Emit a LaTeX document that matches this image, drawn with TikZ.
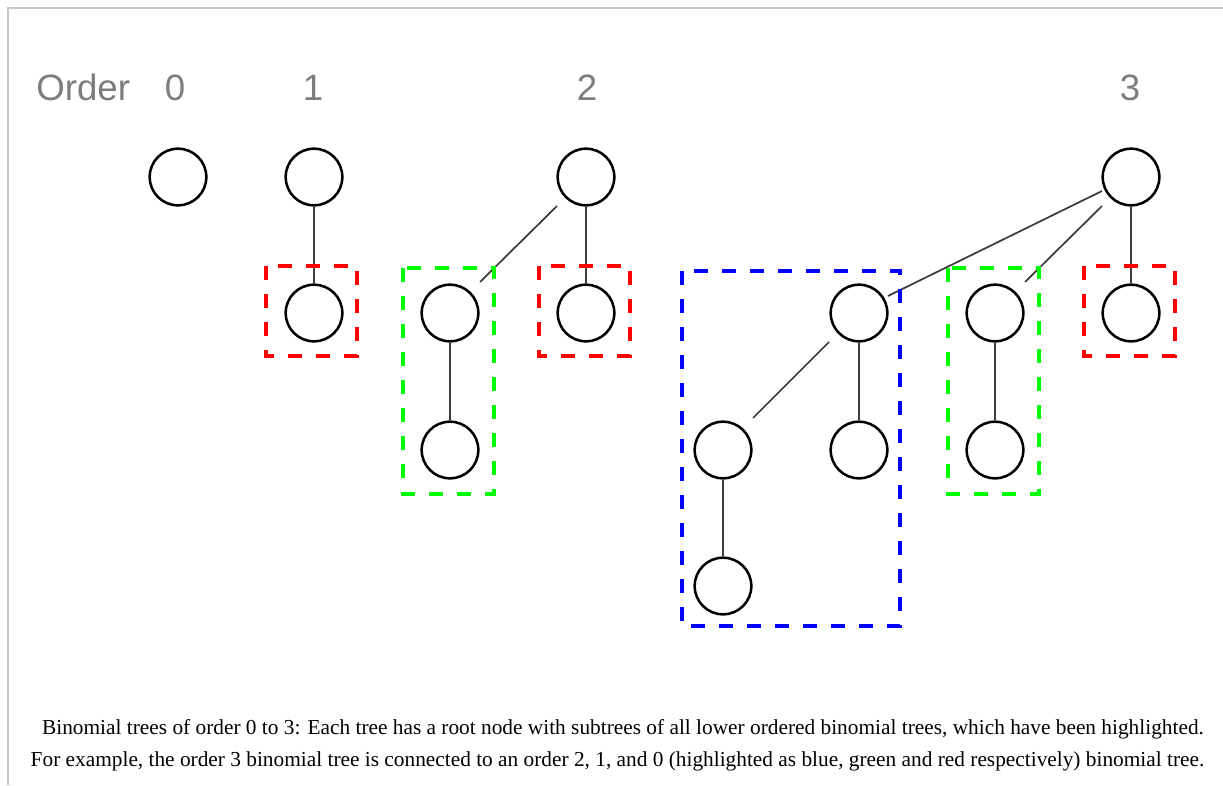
\documentclass[tikz,border=0pt]{standalone}
\usepackage{fontspec}
\setmainfont{Liberation Serif}
\setsansfont{Liberation Sans}
\definecolor{framegray}{RGB}{200,200,200}
\definecolor{edgegray}{RGB}{60,60,60}
\definecolor{labgray}{RGB}{125,125,125}
\begin{document}
\begin{tikzpicture}[x=0.75pt,y=-0.75pt,
  tnode/.style={circle,draw=black,line width=1.9pt,minimum size=42.5pt,inner sep=0pt},
  edge/.style={draw=edgegray,line width=1.3pt},
  hbox/.style={line width=2.6pt,dash pattern=on 10.5pt off 10.5pt},
  lab/.style={font=\sffamily\fontsize{27.5pt}{30pt}\selectfont,text=labgray,inner sep=0pt,anchor=base},
  captext/.style={font=\fontsize{16pt}{19pt}\selectfont,inner sep=0pt,anchor=base}]
\useasboundingbox (0,0) rectangle (1223,785);
\fill[white] (0,0) rectangle (1223,785);
% frame
\draw[line width=0.9pt,framegray] (8,785) -- (8,8) -- (1223,8);
% labels
\node[lab,anchor=base west] (ord) at (36,100) {Order};
\node[lab] (l0) at (175,100) {0};
\node[lab] (l1) at (313,100) {1};
\node[lab] (l2) at (587,100) {2};
\node[lab] (l3) at (1130,100) {3};
% order 0
\node[tnode] (a) at (178,177) {};
% order 1
\node[tnode] (b) at (314,177) {};
\node[tnode] (b1) at (314,313) {};
\draw[edge] (b) -- (b1);
% order 2
\node[tnode] (c) at (586,177) {};
\node[tnode] (c1) at (450,313) {};
\node[tnode] (c11) at (450,450) {};
\node[tnode] (c2) at (586,313) {};
\draw[edge] (c) -- (c2);
\draw[edge] (c1) -- (c11);
\draw[edge] ([shift={(-29,29)}]c.center) -- ([shift={(30,-31)}]c1.center);
% order 3
\node[tnode] (d) at (1131,177) {};
\node[tnode] (d1) at (859,313) {};
\node[tnode] (d11) at (723,450) {};
\node[tnode] (d111) at (723,586) {};
\node[tnode] (d12) at (859,450) {};
\node[tnode] (d2) at (995,313) {};
\node[tnode] (d21) at (995,450) {};
\node[tnode] (d3) at (1131,313) {};
\draw[edge] (d) -- (d3);
\draw[edge] (d2) -- (d21);
\draw[edge] (d1) -- (d12);
\draw[edge] (d11) -- (d111);
\draw[edge] ([shift={(-29,14)}]d.center) -- ([shift={(29,-17)}]d1.center);
\draw[edge] ([shift={(-29,29)}]d.center) -- ([shift={(30,-31)}]d2.center);
\draw[edge] ([shift={(-30,29)}]d1.center) -- ([shift={(30,-32)}]d11.center);
% highlight boxes
\draw[hbox,red] (266,266) rectangle (357,356);
\draw[hbox,green] (403,268) rectangle (494,494);
\draw[hbox,red] (539,266) rectangle (630,356);
\draw[hbox,blue] (682,271) rectangle (900,626);
\draw[hbox,green] (948,268) rectangle (1039,494);
\draw[hbox,red] (1084,266) rectangle (1175,356);
% caption
\node[captext] (cap1) at (623,734) {Binomial trees of order 0 to 3: Each tree has a root node with subtrees of all lower ordered binomial trees, which have been highlighted.};
\node[captext] (cap2) at (617.5,766) {For example, the order 3 binomial tree is connected to an order 2, 1, and 0 (highlighted as blue, green and red respectively) binomial tree.};
\end{tikzpicture}
\end{document}
